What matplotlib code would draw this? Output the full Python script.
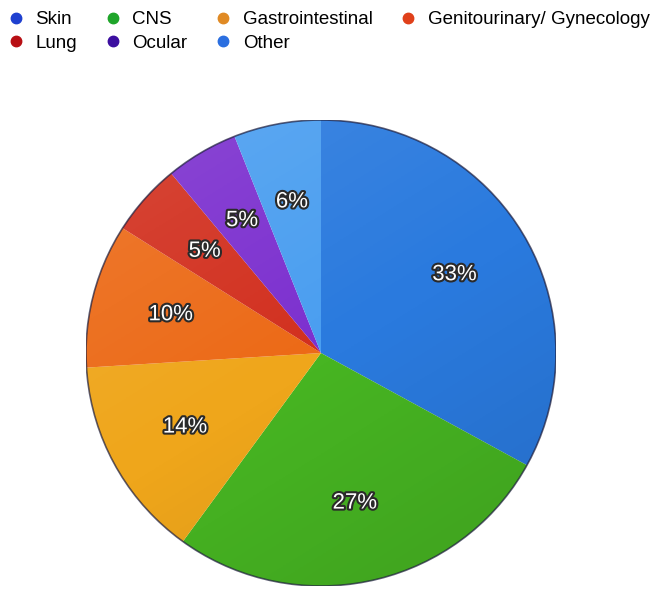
import matplotlib
matplotlib.use("Agg")
import matplotlib.pyplot as plt
import matplotlib.patheffects as pe
from matplotlib.lines import Line2D
from matplotlib.patches import Ellipse
import numpy as np

# ---- data ----
categories = ["Skin", "CNS", "Gastrointestinal", "Genitourinary/ Gynecology",
              "Lung", "Ocular", "Other"]
values = [33, 27, 14, 10, 5, 5, 6]
slice_colors = ["#2a7ade", "#47b522", "#efa61b", "#ec6a17", "#d2301f", "#7c30cf", "#4a9ef0"]
legend_colors = ["#1f40d0", "#1fa52a", "#e08a24", "#e0401a", "#b80f14", "#3c0fa0", "#2b6fe0"]

W, H = 661, 590
fig = plt.figure(figsize=(W / 100, H / 100), dpi=100)
fig.patch.set_facecolor("white")

# pie axes placed in pixels
cx, cy, rx, ry = 321, 353, 235, 233
ax = fig.add_axes([(cx - rx) / W, (H - cy - ry) / H, 2 * rx / W, 2 * ry / H])
wedges, texts, autotexts = ax.pie(
    values, colors=slice_colors, startangle=90, counterclock=False,
    radius=1.0, autopct=lambda p: f"{p:.0f}%", pctdistance=0.66,
    wedgeprops=dict(linewidth=0, edgecolor="none"),
    textprops=dict(color="white", fontsize=16, family="Liberation Sans"))
for t in autotexts:
    t.set_path_effects([pe.withStroke(linewidth=3, foreground="#2a2a2a")])
ax.set_aspect("auto")
ax.set_xlim(-1, 1)
ax.set_ylim(-1, 1)
ax.axis("off")

# subtle shading overlay clipped to the pie
yy, xx = np.mgrid[1:-1:200j, -1:1:200j]
shade = (xx * 0.5 - yy * 0.8)
rgba = np.zeros((200, 200, 4))
light = shade < 0
rgba[..., :3] = np.where(light[..., None], 1.0, 0.0)
rgba[..., 3] = np.clip(np.abs(shade) * 0.09, 0, 0.12)
rim = Ellipse((0, 0), 2, 2, facecolor="none", edgecolor="none")
ax.add_patch(rim)
im = ax.imshow(rgba, extent=(-1, 1, -1, 1), zorder=3, aspect="auto")
im.set_clip_path(rim)
for t in autotexts:
    t.set_zorder(5)
ax.add_patch(Ellipse((0, 0), 2, 2, facecolor="none", edgecolor="#1c1c3c",
                     linewidth=1.2, alpha=0.7, zorder=4))

# legend (column-major order to display row-wise)
handles = [Line2D([], [], linestyle="none", marker="o", markersize=7.5,
                  markerfacecolor=c, markeredgecolor=c) for c in legend_colors]
order = [0, 4, 1, 5, 2, 6, 3]
fig.legend([handles[i] for i in order], [categories[i] for i in order],
           loc="upper left", bbox_to_anchor=(10 / W, 1 - 11 / H), ncol=4,
           frameon=False, borderpad=0, borderaxespad=0,
           handlelength=0.6, handletextpad=0.75, columnspacing=1.6,
           labelspacing=0.36, prop=dict(family="Liberation Sans", size=13.5))

fig.savefig("out.png", dpi=100, facecolor="white")
